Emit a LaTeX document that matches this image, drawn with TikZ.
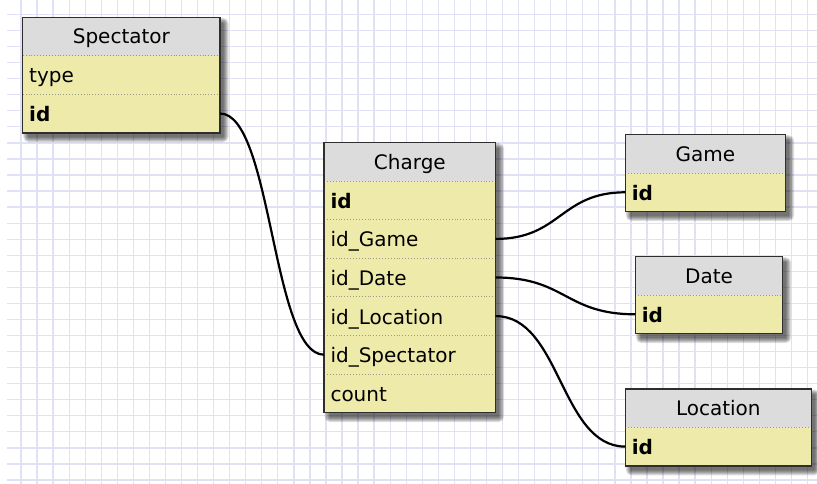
\documentclass[tikz,border=0pt]{standalone}
\usepackage{fontspec}
\setmainfont{DejaVu Sans}
\usetikzlibrary{fit,calc}
\definecolor{gridline}{HTML}{E1E1F6}
\definecolor{headfill}{HTML}{DCDCDC}
\definecolor{rowfill}{HTML}{EEEBAA}
\definecolor{frame}{HTML}{2E2E2E}
\definecolor{sep}{HTML}{9A9A8A}
\pgfdeclarelayer{paper}
\pgfdeclarelayer{under}
\pgfsetlayers{paper,under,main}
\tikzset{
  cell/.style={anchor=north west, inner ysep=0pt, outer sep=0pt, text depth=0pt,
    font=\fontsize{20}{24}\selectfont, text=black},
  head/.style={cell, text height=14.6pt, fill=headfill, minimum width=#1,
    minimum height=38.3pt, inner xsep=0pt},
  field/.style={cell, text height=15.8pt, fill=rowfill, minimum width=#1, minimum height=38.6pt,
    inner xsep=6.5pt,
    execute at begin node={\hbox to \dimexpr #1-13pt\relax\bgroup},
    execute at end node={\hfil\egroup}},
  key/.style={field=#1, font=\fontsize{20}{24}\selectfont\bfseries},
  tableframe/.style={draw=frame, line width=1.5pt, inner sep=0pt},
  divider/.style={draw=sep, dotted, line width=0.9pt},
  link/.style={draw=black, line width=2.2pt},
  shade/.style={fill=black, opacity=0.12},
}
% soft shadow offset to the lower right of a table outline
\newcommand\tableshade[2]{%
  \foreach \g in {0.5,1.5,2.5,3.5,4.5,5.5}
    \fill[shade, rounded corners=\g pt]
      ($(#1.north west)+(6-\g,6-\g)$) rectangle ($(#2.south east)+(3+\g,4+\g)$);}
\begin{document}
\begin{tikzpicture}[x=1pt, y=-1pt]
\useasboundingbox (0,0) rectangle (817,484);

% squared paper
\begin{pgfonlayer}{paper}
  \fill[white] (0,0) rectangle (817,484);
  \begin{scope}
    \clip (7,0) rectangle (817,484);
    \foreach \k in {0,...,50}
      \draw[gridline, line width=1.3pt] ({21+16.05*\k},0) -- ({21+16.05*\k},484);
    \foreach \k in {0,...,30}
      \draw[gridline, line width=1.3pt] (7,{14.5+16.05*\k}) -- (817,{14.5+16.05*\k});
  \end{scope}
\end{pgfonlayer}

% Spectator
\node[head=197.3pt] (sh) at (22.7,17.3) {Spectator};
\node[field=197.3pt] (stype) at (sh.south west) {type};
\node[key=197.3pt] (sid) at (stype.south west) {id};

% Charge
\node[head=171.7pt] (ch) at (324,142.7) {Charge};
\node[key=171.7pt] (cid) at (ch.south west) {id};
\node[field=171.7pt] (cgame) at (cid.south west) {id\_Game};
\node[field=171.7pt] (cdate) at (cgame.south west) {id\_Date};
\node[field=171.7pt] (cloc) at (cdate.south west) {id\_Location};
\node[field=171.7pt] (cspec) at (cloc.south west) {id\_Spectator};
\node[field=171.7pt] (ccount) at (cspec.south west) {count};

% Game
\node[head=160.4pt] (gh) at (625.3,134.7) {Game};
\node[key=160.4pt] (gid) at (gh.south west) {id};

% Date
\node[head=147.4pt] (dh) at (635.3,256.7) {Date};
\node[key=147.4pt] (did) at (dh.south west) {id};

% Location
\node[head=186pt] (lh) at (625.3,389) {Location};
\node[key=186pt] (lid) at (lh.south west) {id};

% shadows under each table
\begin{pgfonlayer}{under}
  \tableshade{sh}{sid}
  \tableshade{ch}{ccount}
  \tableshade{gh}{gid}
  \tableshade{dh}{did}
  \tableshade{lh}{lid}
\end{pgfonlayer}

% row dividers
\foreach \r in {stype,sid,cid,cgame,cdate,cloc,cspec,ccount,gid,did,lid}
  \draw[divider] (\r.north west) -- (\r.north east);

% table outlines
\node[tableframe, fit=(sh)(sid)] (spectator) {};
\node[tableframe, fit=(ch)(ccount)] (charge) {};
\node[tableframe, fit=(gh)(gid)] (game) {};
\node[tableframe, fit=(dh)(did)] (date) {};
\node[tableframe, fit=(lh)(lid)] (location) {};

% references
\draw[link] (sid.east) .. controls +(52,0) and +(-52,0) .. (cspec.west);
\draw[link] (cgame.east) .. controls +(65,0) and +(-65,0) .. (gid.west);
\draw[link] (cdate.east) .. controls +(70,0) and +(-70,0) .. (did.west);
\draw[link] (cloc.east) .. controls +(65,0) and +(-65,0) .. (lid.west);
\end{tikzpicture}
\end{document}
